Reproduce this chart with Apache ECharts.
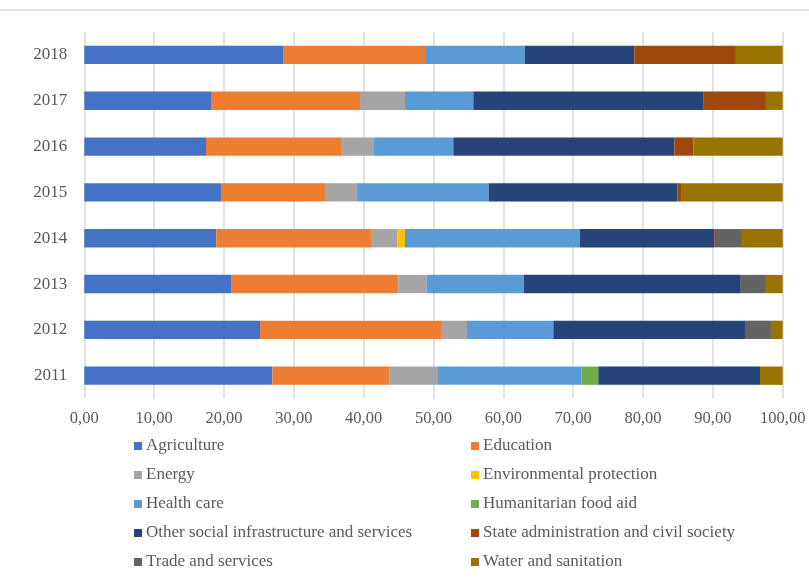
<!DOCTYPE html>
<html>
<head>
<meta charset="utf-8">
<title>Sector shares by year</title>
<script src="https://cdn.jsdelivr.net/npm/echarts@6/dist/echarts.min.js"></script>
<style>
  html, body { margin: 0; padding: 0; background: #ffffff; }
  #chart { width: 809px; height: 580px; }
</style>
</head>
<body>
<div id="chart"></div>
<script>
// Share of each sector per year (percent of the yearly total)
const years = ['2011', '2012', '2013', '2014', '2015', '2016', '2017', '2018'];

const agriculture    = [26.92, 25.16, 21.00, 18.90, 19.57, 17.43, 18.14, 28.45];
const education      = [16.81, 25.91, 23.96, 22.15, 14.89, 19.33, 21.34, 20.33];
const energy         = [6.91, 3.73, 4.06, 3.77, 4.59, 4.62, 6.44, 0];
const environmental  = [0, 0, 0, 1.10, 0, 0, 0, 0];
const healthCare     = [20.58, 12.36, 13.94, 25.06, 18.85, 11.46, 9.78, 14.32];
const humanitarian   = [2.38, 0, 0, 0, 0, 0, 0, 0];
const otherSocial    = [23.15, 27.44, 30.93, 19.22, 27.01, 31.64, 32.99, 15.65];
const stateAdmin     = [0, 0, 0, 0.25, 0.53, 2.72, 8.91, 14.55];
const tradeServices  = [0, 3.72, 3.71, 3.58, 0, 0, 0, 0];
const waterSanitation = [3.25, 1.68, 2.40, 5.97, 14.56, 12.80, 2.40, 6.70];

const xTicks = { min: 0, max: 100, interval: 10 };

const seriesDefs = [
  ['Agriculture', agriculture, '#4472C4'],
  ['Education', education, '#ED7D31'],
  ['Energy', energy, '#A5A5A5'],
  ['Environmental protection', environmental, '#FFC000'],
  ['Health care', healthCare, '#5B9BD5'],
  ['Humanitarian food aid', humanitarian, '#70AD47'],
  ['Other social infrastructure and services', otherSocial, '#264478'],
  ['State administration and civil society', stateAdmin, '#9E480E'],
  ['Trade and services', tradeServices, '#636363'],
  ['Water and sanitation', waterSanitation, '#997300']
];

const textColor = '#595959';
const fontFamily = '"Liberation Serif", "Times New Roman", serif';

const legendCommon = {
  orient: 'vertical',
  top: 431,
  icon: 'rect',
  itemWidth: 8,
  itemHeight: 8,
  itemGap: 9,
  textStyle: { color: textColor, fontFamily: fontFamily, fontSize: 17, lineHeight: 20, padding: [0, 0, 0, -1] }
};

const chart = echarts.init(document.getElementById('chart'), null, { renderer: 'canvas' });

chart.setOption({
  animation: false,
  backgroundColor: '#ffffff',
  grid: { left: 84.3, right: 26.3, top: 32, bottom: 181.4, containLabel: false },
  xAxis: {
    type: 'value',
    min: xTicks.min,
    max: xTicks.max,
    interval: xTicks.interval,
    axisLine: { show: false },
    axisTick: { show: false },
    splitLine: { show: true, lineStyle: { color: '#d9d9d9', width: 1.5 } },
    axisLabel: {
      color: textColor,
      fontFamily: fontFamily,
      fontSize: 16.5,
      margin: 12,
      formatter: v => v.toFixed(2).replace('.', ',')
    }
  },
  yAxis: {
    type: 'category',
    data: years,
    axisLine: { show: false },
    axisTick: { show: false },
    axisLabel: { color: textColor, fontFamily: fontFamily, fontSize: 17, margin: 17 }
  },
  legend: [
    Object.assign({ left: 129, data: seriesDefs.filter((d, i) => i % 2 === 0).map(d => d[0]) }, legendCommon),
    Object.assign({ left: 466, data: seriesDefs.filter((d, i) => i % 2 === 1).map(d => d[0]) }, legendCommon)
  ],
  graphic: [
    { type: 'line', shape: { x1: 0, y1: 10, x2: 809, y2: 10 }, style: { stroke: '#d9d9d9', lineWidth: 1.5 }, silent: true }
  ],
  series: seriesDefs.map(([name, values, color]) => ({
    name: name,
    type: 'bar',
    stack: 'total',
    barWidth: '40%',
    data: values,
    itemStyle: { color: color },
    emphasis: { disabled: true }
  }))
});
</script>
</body>
</html>
